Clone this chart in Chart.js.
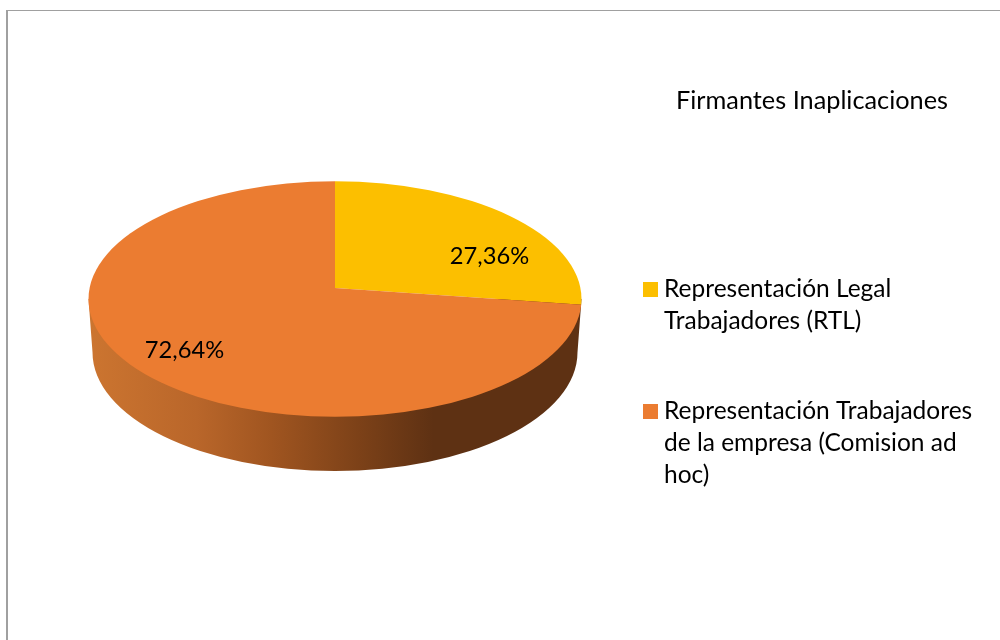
<!DOCTYPE html>
<html lang="es">
<head>
<meta charset="utf-8">
<title>Firmantes Inaplicaciones</title>
<script src="https://cdn.jsdelivr.net/npm/chart.js@4"></script>
<style>
html,body{margin:0;padding:0;background:#fff;width:1000px;height:640px;overflow:hidden}
#frame{position:absolute;left:6px;top:10px;right:0;bottom:0;border-left:2px solid #a0a0a0;border-top:1px solid #a0a0a0}
#c{position:absolute;left:0;top:0}
</style>
</head>
<body>
<div id="frame"></div>
<canvas id="c" width="1000" height="640"></canvas>
<script>
const chartTitle = 'Firmantes Inaplicaciones';
const categories = ['Representación Legal Trabajadores (RTL)', 'Representación Trabajadores de la empresa (Comision ad hoc)'];
const legendLines = [['Representación Legal', 'Trabajadores (RTL)'], ['Representación Trabajadores', 'de la empresa (Comision ad', 'hoc)']];
const values = [27.36, 72.64];
const sliceColors = ['#FCBF00', '#EB7C31'];
const valueLabels = ['27,36%', '72,64%'];

const FONT = 'Lato, Carlito, sans-serif';
const view = {
  stretchX: 1.15, stretchY: 0.525,
  apexDrop: 11, faceRatio: 118 / 247, depth: 54, baseInset: 4, baseRatio: 119 / 247,
  labelOffsets: [[154.5, -32], [-150.5, 62]],
  labelSize: 23.7,
  legend: { x: 643, box: 15, textX: 664, size: 24.5, line: 32, tops: [289.5, 411.5] }
};

const tiltedPie = {
  id: 'tiltedPie',
  afterLayout(chart) {
    const t = chart.titleBlock;
    t.left = 676; t.right = 948; t.top = 88.5; t.bottom = 114;
  },
  beforeDatasetsDraw(chart) {
    const ctx = chart.ctx;
    const arcs = chart.getDatasetMeta(0).data;
    const cx = arcs[0].x, cy = arcs[0].y, r = arcs[0].outerRadius;
    const faceCy = cy + view.apexDrop, faceRy = r * view.faceRatio;

    // side wall
    const baseRx = r - view.baseInset, baseRy = r * view.baseRatio;
    const baseCy = 471 - baseRy;
    const g = ctx.createLinearGradient(cx - r, 0, cx + r, 0);
    g.addColorStop(0, '#CC7530');
    g.addColorStop(0.22, '#B9662A');
    g.addColorStop(0.37, '#A05520');
    g.addColorStop(0.55, '#7C4118');
    g.addColorStop(0.70, '#5E3113');
    g.addColorStop(1, '#5E3113');
    ctx.save();
    ctx.beginPath();
    ctx.moveTo(cx - r, faceCy);
    ctx.lineTo(cx - baseRx, baseCy);
    ctx.ellipse(cx, baseCy, baseRx, baseRy, 0, Math.PI, 0, true);
    ctx.lineTo(cx + r, faceCy);
    ctx.closePath();
    ctx.fillStyle = g;
    ctx.fill();
    ctx.restore();

    // top face: library arcs, tilted and clipped to the face ellipse
    ctx.save();
    ctx.beginPath();
    ctx.ellipse(cx, faceCy, r, faceRy, 0, 0, Math.PI * 2);
    ctx.clip();
    ctx.translate(cx, cy);
    ctx.scale(view.stretchX, view.stretchY);
    ctx.translate(-cx, -cy);
    arcs.forEach(a => a.draw(ctx));
    ctx.restore();

    // value labels
    ctx.save();
    ctx.fillStyle = '#000';
    ctx.font = view.labelSize + 'px ' + FONT;
    ctx.textAlign = 'center';
    ctx.textBaseline = 'middle';
    valueLabels.forEach((txt, i) => {
      ctx.fillText(txt, cx + view.labelOffsets[i][0], cy + view.labelOffsets[i][1]);
    });
    ctx.restore();
    return false;
  },
  afterDraw(chart) {
    const ctx = chart.ctx, L = view.legend;
    ctx.save();
    ctx.font = L.size + 'px ' + FONT;
    ctx.textAlign = 'left';
    ctx.textBaseline = 'middle';
    legendLines.forEach((lines, i) => {
      ctx.fillStyle = sliceColors[i];
      ctx.fillRect(L.x, Math.round(L.tops[i] - 0.5) - 7, L.box, L.box);
      ctx.fillStyle = '#000';
      lines.forEach((s, j) => ctx.fillText(s, L.textX, L.tops[i] + j * L.line));
    });
    ctx.restore();
  }
};

new Chart(document.getElementById('c'), {
  type: 'pie',
  data: {
    labels: categories,
    datasets: [{ data: values, backgroundColor: sliceColors, borderWidth: 0 }]
  },
  options: {
    responsive: false,
    animation: false,
    layout: { padding: { left: 88.5, right: 418.5, top: 15.5, bottom: 105 } },
    plugins: {
      legend: { display: false },
      tooltip: { enabled: false },
      title: {
        display: true,
        text: chartTitle,
        color: '#000',
        padding: 0,
        font: { family: FONT, size: 25.5, weight: 'normal', lineHeight: 1 }
      }
    }
  },
  plugins: [tiltedPie]
});
</script>
</body>
</html>
